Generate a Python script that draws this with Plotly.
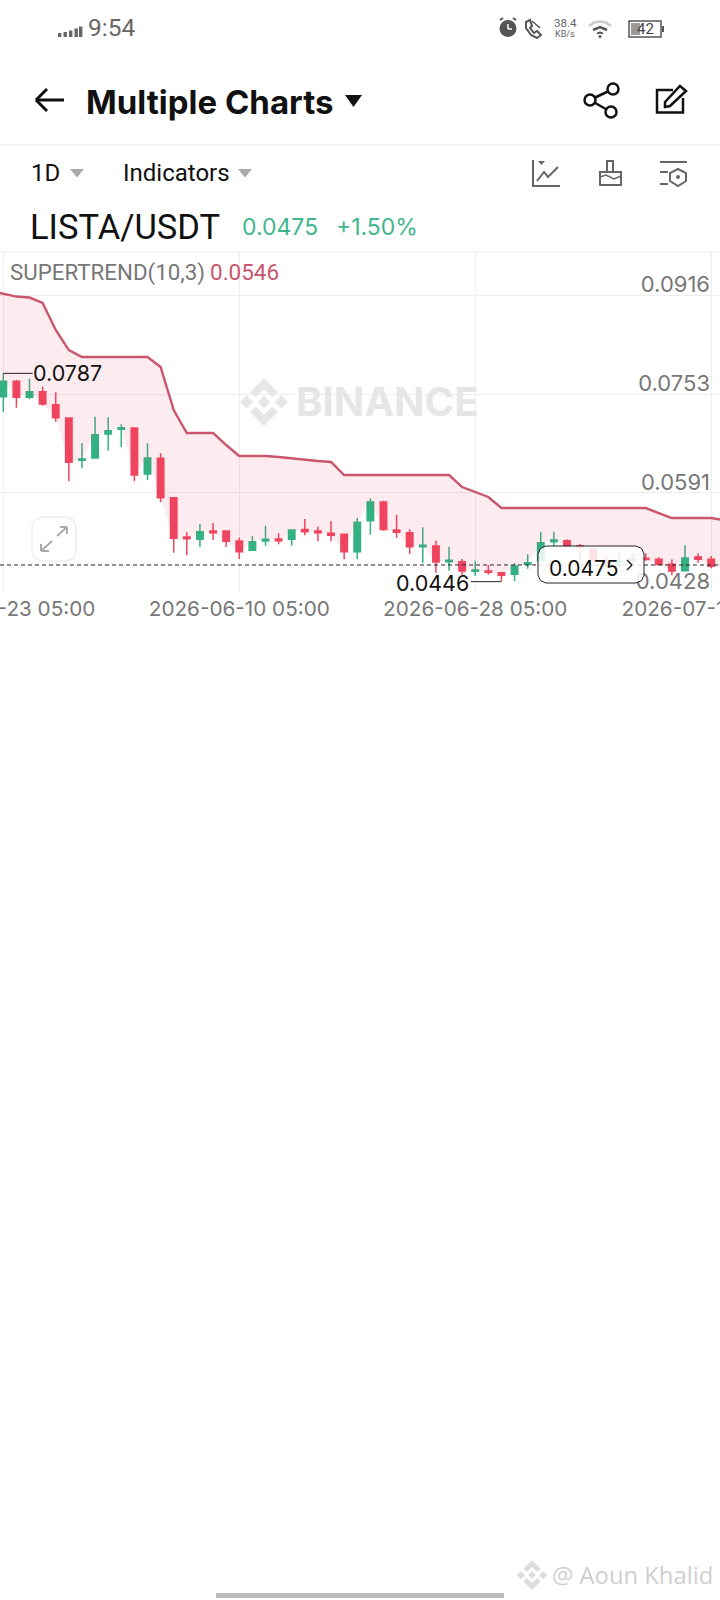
import pandas as pd
import plotly.graph_objects as go

open_ = [.07490,.07742,.07479,.07572,.07358,.07139,.06444,.06482,.06876,.06953,.06975,.06219,.06477,.0583,
         .05184,.05146,.05283,.05283,.05118,.04965,.05118,.05151,.05146,.05305,.05283,.05244,.05228,.04943,
         .05452,.05759,.05299,.05255,.05025,.05036,.04779,.04779,.0462,.04625,.04598,.04571,.04735,.04795,
         .05107,.05124,.05042,.04981,.04779,.04762,.04795,.04834,.04817,.04735,.04631,.04855,.04817,.04724]
close = [.07742,.07479,.07572,.07369,.07145,.06411,.06466,.06866,.06931,.06981,.06203,.06482,.0583,.05162,
         .05157,.05272,.05255,.05113,.04943,.05107,.05146,.05124,.05299,.05272,.05255,.05212,.04943,.05425,
         .05759,.05305,.05261,.05025,.05047,.04773,.04801,.04625,.04642,.04604,.04554,.04708,.04762,.05091,
         .05135,.05025,.05014,.04817,.04751,.0479,.04817,.04812,.0473,.04625,.04839,.04817,.04702,.04686]
high = [.07873,.07764,.07786,.07654,.07561,.07145,.06729,.07161,.0715,.07035,.06981,.06723,.06559,.05836,
        .05261,.05398,.05414,.05288,.05173,.05201,.0537,.05244,.0531,.0548,.05354,.05447,.05233,.05496,
        .05819,.05781,.05546,.0531,.05343,.05124,.05025,.04823,.04795,.04724,.04598,.04751,.04899,.05272,
        .05272,.05146,.05069,.04981,.04861,.04916,.04927,.04916,.0485,.04817,.05047,.04916,.04872,.04806]
low = [.07243,.07309,.07446,.07342,.07079,.06099,.06312,.06482,.06603,.06663,.06099,.06121,.05754,.04927,
       .04883,.0502,.05135,.0502,.04823,.04954,.05042,.05064,.05042,.05212,.05113,.05113,.04817,.04817,
       .05222,.05288,.05168,.04905,.04762,.04598,.04631,.04565,.04549,.04565,.0446,.04462,.04664,.04779,
       .05025,.05014,.04817,.04779,.04697,.04697,.04724,.04795,.04719,.04554,.04631,.04762,.04669,.04642]
supertrend = [.09226,.09185,.09135,.09119,.09029,.08585,.08256,.08141,.08141,.08141,.08141,.08141,.08141,
              .07977,.0727,.06893,.06893,.06893,.06695,.06515,.06515,.06515,.06498,.06474,.06449,.06432,.06416,
              .06202,.06202,.06202,.06202,.06202,.06202,.06202,.06202,.06202,.06005,.05923,.05841,.0566,.0566,
              .0566,.0566,.0566,.0566,.0566,.0566,.0566,.0566,.0566,.0566,.05578,.05496,.05496,.05496,.05496,.0546]
previous_close = .0765
price_ticks = [0.0428, 0.0591, 0.0753, 0.0916]
price_tick_labels = ["0.0428", "0.0591", "0.0753", "0.0916"]
date_ticks = ["2026-05-23 05:00", "2026-06-10 05:00", "2026-06-28 05:00", "2026-07-16 05:00"]
last_price_line = 0.04724
last_price_label = "0.0475"
high_mark, low_mark = 0.07873, 0.0445

dates = pd.date_range("2026-05-23 05:00", periods=len(close), freq="D")
line_dates = pd.date_range("2026-05-22 05:00", periods=len(supertrend), freq="D")

W, H = 720, 1600
GREEN, RED = "#33b183", "#f0455f"
LINE = "#c9566c"
GRID = "#eeeeee"
AX = "#777777"
FONT = "Inter"


def X(px):
    return px / W


def Y(py):
    return 1 - py / H


def path(points, close_it=False):
    s = "M" + " L".join(f"{X(a):.5f},{Y(b):.5f}" for a, b in points)
    return s + (" Z" if close_it else "")


shapes = []


def poly(points, fill=None, color=None, width=0, closed=True):
    shapes.append(dict(type="path", xref="paper", yref="paper", path=path(points, closed),
                       fillcolor=fill if fill else "rgba(0,0,0,0)",
                       line=dict(color=color if color else "rgba(0,0,0,0)", width=width)))


def seg(x0, y0, x1, y1, color, width=1, dash=None):
    shapes.append(dict(type="line", xref="paper", yref="paper", x0=X(x0), x1=X(x1), y0=Y(y0), y1=Y(y1),
                       line=dict(color=color, width=width, dash=dash or "solid")))


def box(x0, y0, x1, y1, fill=None, color=None, width=0):
    shapes.append(dict(type="rect", xref="paper", yref="paper", x0=X(x0), x1=X(x1), y0=Y(y0), y1=Y(y1),
                       fillcolor=fill if fill else "rgba(0,0,0,0)",
                       line=dict(color=color if color else "rgba(0,0,0,0)", width=width)))


def circle(cx, cy, r, fill=None, color=None, width=0):
    shapes.append(dict(type="circle", xref="paper", yref="paper", x0=X(cx - r), x1=X(cx + r), y0=Y(cy + r), y1=Y(cy - r),
                       fillcolor=fill if fill else "rgba(0,0,0,0)",
                       line=dict(color=color if color else "rgba(0,0,0,0)", width=width)))


def rounded(x0, y0, x1, y1, r, fill=None, color=None, width=1):
    pts = [(x0 + r, y0), (x1 - r, y0), (x1 - r * .3, y0 + r * .3), (x1, y0 + r), (x1, y1 - r),
           (x1 - r * .3, y1 - r * .3), (x1 - r, y1), (x0 + r, y1), (x0 + r * .3, y1 - r * .3),
           (x0, y1 - r), (x0, y0 + r), (x0 + r * .3, y0 + r * .3)]
    poly(pts, fill=fill, color=color, width=width)


def logo(cx, cy, s, color):
    poly([(cx, cy - .26 * s), (cx + .26 * s, cy), (cx, cy + .26 * s), (cx - .26 * s, cy)], fill=color)
    poly([(cx - s, cy), (cx - .73 * s, cy - .27 * s), (cx - .46 * s, cy), (cx - .73 * s, cy + .27 * s)], fill=color)
    poly([(cx + s, cy), (cx + .73 * s, cy - .27 * s), (cx + .46 * s, cy), (cx + .73 * s, cy + .27 * s)], fill=color)
    poly([(cx, cy - s), (cx + .58 * s, cy - .42 * s), (cx + .34 * s, cy - .2 * s), (cx, cy - .54 * s),
          (cx - .34 * s, cy - .2 * s), (cx - .58 * s, cy - .42 * s)], fill=color)
    poly([(cx, cy + s), (cx + .58 * s, cy + .42 * s), (cx + .34 * s, cy + .2 * s), (cx, cy + .54 * s),
          (cx - .34 * s, cy + .2 * s), (cx - .58 * s, cy + .42 * s)], fill=color)


notes = []


def txt(px, py, text, size, color="#111111", anchor="left", family=FONT):
    notes.append(dict(xref="paper", yref="paper", x=X(px), y=Y(py), text=text, showarrow=False,
                      xanchor=anchor, yanchor="middle", borderpad=0, borderwidth=0,
                      font=dict(size=size, color=color, family=family)))


# status bar
for i, (bx, top) in enumerate([(58, 33), (63.5, 32), (69, 30.5), (74.5, 28.5), (79, 26.5)]):
    box(bx, top, bx + 3.4, 37, fill="#666666")
txt(88, 28, "9:54", 24.5, "#666666", family="Roboto")
circle(508, 28.5, 8.5, fill="#555555")
seg(508, 24, 508, 29, "#ffffff", 1.5)
seg(508, 29, 512, 29, "#ffffff", 1.5)
seg(500, 20, 503, 18, "#555555", 2)
seg(516, 20, 513, 18, "#555555", 2)
poly([(526, 22), (530, 20), (532, 26), (530, 28), (534, 33), (537, 31), (541, 35), (537, 38), (531, 35), (526, 28)],
     color="#555555", width=2)
poly([(532, 21), (540, 28)], color="#555555", width=1.5, closed=False)
txt(565, 23, "38.4", 11.5, "#666666", "center", "Roboto")
txt(565, 33.5, "KB/s", 9, "#666666", "center", "Roboto")
poly([(589, 26), (594, 22.5), (600, 21.5), (606, 22.5), (611, 26)], color="#cccccc", width=2.5, closed=False)
poly([(593, 30), (600, 27), (607, 30)], color="#555555", width=2.5, closed=False)
poly([(597, 33.5), (600, 32.5), (603, 33.5)], color="#555555", width=2, closed=False)
circle(600, 36.5, 1.5, fill="#555555")
box(629, 21, 661, 37, color="#555555", width=1.5)
box(631, 23, 640, 35, fill="#999999")
box(662, 26, 664, 32, fill="#555555")
txt(645, 29.5, "42", 15, "#444444", "center", "Roboto")

# title row
seg(37, 100, 64, 100, "#111111", 3)
seg(36, 100, 47, 89, "#111111", 3)
seg(36, 100, 47, 111, "#111111", 3)
txt(86, 102, "<b>Multiple Charts</b>", 33, "#111111", family="Inter")
poly([(345, 95), (362, 95), (353.5, 107)], fill="#111111")
seg(590, 100, 613, 89, "#111111", 2.5)
seg(590, 100, 611, 112, "#111111", 2.5)
circle(613, 89, 5.5, fill="#ffffff", color="#111111", width=2.5)
circle(590, 100, 5.5, fill="#ffffff", color="#111111", width=2.5)
circle(611, 112, 5.5, fill="#ffffff", color="#111111", width=2.5)
poly([(673, 90), (657, 90), (657, 112.5), (683, 112.5), (683, 98)], color="#111111", width=2.5, closed=False)
poly([(665, 102), (680, 86), (686, 91), (670, 106), (665, 107)], fill="#ffffff", color="#111111", width=2.5)
seg(0, 145, 720, 145, "#ececec", 1)

# toolbar
txt(31, 173, "1D", 24, "#111111", family="Roboto")
poly([(70, 169), (84, 169), (77, 177.5)], fill="#aaaaaa")
txt(123, 173, "Indicators", 24, "#111111", family="Roboto")
poly([(238, 169), (252, 169), (245, 177.5)], fill="#aaaaaa")
poly([(533, 160), (533, 186), (560, 186)], color="#666666", width=2, closed=False)
poly([(537, 181), (544, 172), (548, 177), (558, 167)], color="#666666", width=2, closed=False)
poly([(538, 161), (545, 161), (541.5, 165)], fill="#666666")
box(600, 172, 621, 185, color="#666666", width=2)
box(607, 161, 613, 172, color="#666666", width=2)
poly([(600, 177), (606, 175), (614, 179), (621, 176)], color="#666666", width=1.5, closed=False)
seg(660, 162, 687, 162, "#666666", 2)
seg(660, 172, 668, 172, "#666666", 2)
seg(660, 184, 668, 184, "#666666", 2)
poly([(678, 169), (686, 173), (686, 181), (678, 186), (670, 181), (670, 173)], color="#666666", width=2)
circle(678, 177, 2, fill="#666666")

# instrument header
txt(30, 227, "LISTA/USDT", 34.5, "#111111", family="Roboto")
txt(242, 227, "0.0475", 23, "#3fb68e")
txt(336, 227, "+1.50%", 23, "#3fb68e")

# chart frame and watermark
seg(0, 252, 720, 252, "#ececec", 1)
logo(264, 402, 24, "#e6e6e6")
txt(296, 402, "<b>BINANCE</b>", 40, "#e6e6e6")
txt(10, 272, "SUPERTREND(10,3)", 22.3, "#777777", family="Roboto")
txt(210, 272, "0.0546", 22.5, "#c9566c", family="Roboto")

# expand button
rounded(32, 517, 76, 561, 9, fill="rgba(255,255,255,0.7)", color="#eeeeee", width=1.5)
seg(41, 551, 52, 541, "#aaaaaa", 2)
seg(41, 551, 41, 544, "#aaaaaa", 2)
seg(41, 551, 49, 551, "#aaaaaa", 2)
seg(57, 536, 67, 527, "#aaaaaa", 2)
seg(67, 527, 60, 527, "#aaaaaa", 2)
seg(67, 527, 67, 534, "#aaaaaa", 2)

# last price line, markers and pill
shapes.append(dict(type="line", xref="paper", yref="y", x0=0, x1=1, y0=last_price_line, y1=last_price_line,
                   line=dict(color="#222222", width=1, dash="4px,3px")))
shapes.append(dict(type="line", xref="x", yref="y", x0=dates[0], x1="2026-05-25 11:00", y0=high_mark, y1=high_mark,
                   line=dict(color="#222222", width=1)))
shapes.append(dict(type="line", xref="x", yref="y", x0="2026-06-27 21:00", x1=dates[38], y0=low_mark, y1=low_mark,
                   line=dict(color="#222222", width=1)))
notes.append(dict(xref="x", yref="y", x="2026-05-25 11:00", y=high_mark, text=f"{high_mark:.4f}", showarrow=False,
                  xanchor="left", yanchor="middle", xshift=-2, font=dict(size=21.5, color="#111111", family=FONT)))
notes.append(dict(xref="x", yref="y", x="2026-06-27 21:00", y=low_mark, text="0.0446", showarrow=False,
                  xanchor="right", yanchor="middle", yshift=-1, font=dict(size=21.5, color="#111111", family=FONT)))
rounded(538, 546, 644, 583, 8, fill="rgba(255,255,255,0.85)", color="#222222", width=1)
txt(549, 568, last_price_label, 21, "#111111")
seg(627, 560, 632, 565, "#222222", 1.5)
seg(632, 565, 627, 570, "#222222", 1.5)

# bottom credit and home bar
logo(532, 1575, 15, "#dddddd")
txt(552, 1575, "@ Aoun Khalid", 23.8, "#cfcfcf", family="Open Sans")
box(216, 1593, 504, 1598, fill="#bdbdbd")

fig = go.Figure()
fig.add_trace(go.Candlestick(x=dates, open=open_, high=high, low=low, close=close,
                             increasing=dict(line=dict(color=GREEN, width=1.5), fillcolor=GREEN),
                             decreasing=dict(line=dict(color=RED, width=1.5), fillcolor=RED),
                             hoverinfo="skip", showlegend=False))
fig.add_trace(go.Scatter(x=line_dates, y=[previous_close] + close, mode="lines", line=dict(width=0, color="rgba(0,0,0,0)"),
                         hoverinfo="skip", showlegend=False))
fig.add_trace(go.Scatter(x=line_dates, y=supertrend, mode="lines", line=dict(color=LINE, width=2.4),
                         fill="tonexty", fillcolor="rgba(240,70,95,0.10)", hoverinfo="skip", showlegend=False))

fig.update_layout(
    width=W, height=H, margin=dict(l=0, r=0, t=0, b=0, autoexpand=False), paper_bgcolor="#ffffff", plot_bgcolor="#ffffff",
    showlegend=False, shapes=shapes, annotations=notes,
    font=dict(family=FONT, color=AX),
    xaxis=dict(type="date", domain=[0, 1], anchor="y", range=["2026-05-22 22:58", "2026-07-16 21:05"], automargin=False,
               rangeslider=dict(visible=False), tickmode="array", tickvals=date_ticks, ticktext=date_ticks,
               showgrid=True, gridcolor=GRID, gridwidth=1, zeroline=False, showline=False, ticks="",
               tickfont=dict(size=20.7, color=AX, family=FONT), ticklabeloverflow="allow", ticklabelstandoff=2),
    yaxis=dict(domain=[Y(592), Y(252)], range=[0.0428, 0.09867], side="right", tickmode="array", automargin=False,
               tickvals=price_ticks, ticktext=price_tick_labels, showgrid=True, gridcolor=GRID, gridwidth=1,
               zeroline=False, showline=False, ticks="", ticklabelposition="inside",
               ticklabeloverflow="allow", ticklabelshift=-11, ticklabelstandoff=7,
               tickfont=dict(size=22, color=AX, family=FONT)),
)
fig.write_html("out.html", config=dict(displayModeBar=False),
               post_script="document.body.style.margin='0';")
